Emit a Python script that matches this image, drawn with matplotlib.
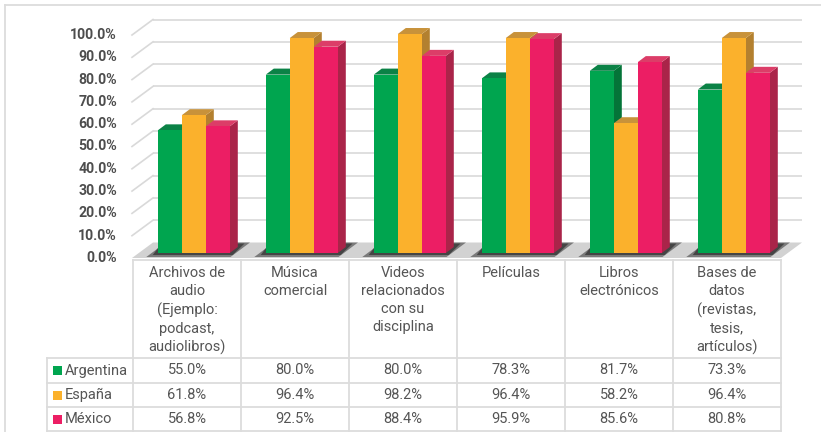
import matplotlib
matplotlib.use("Agg")
import matplotlib.pyplot as plt
from matplotlib.patches import Polygon
from matplotlib.transforms import offset_copy

# ---------------- data ----------------
categories = [
    "Archivos de\naudio\n(Ejemplo:\npodcast,\naudiolibros)",
    "Música\ncomercial",
    "Videos\nrelacionados\ncon su\ndisciplina",
    "Películas",
    "Libros\nelectrónicos",
    "Bases de\ndatos\n(revistas,\ntesis,\nartículos)",
]
series_names = ["Argentina", "España", "México"]
argentina = [55.0, 80.0, 80.0, 78.3, 81.7, 73.3]
espana = [61.8, 96.4, 98.2, 96.4, 58.2, 96.4]
mexico = [56.8, 92.5, 88.4, 95.9, 85.6, 80.8]
series_values = [argentina, espana, mexico]
yticks = [0, 10, 20, 30, 40, 50, 60, 70, 80, 90, 100]

# ---------------- style ----------------
front_cols = ["#00a54f", "#fbb12c", "#ec1e64"]
top_cols = ["#0b8246", "#c8923a", "#dc3d68"]
side_cols = ["#047438", "#b3802f", "#aa2449"]
grid_col = "#d9d9d9"
text_col = "#555555"
FONT = ["Roboto", "DejaVu Sans"]
plt.rcParams["font.family"] = FONT

W, H = 821, 432
fig = plt.figure(figsize=(W / 100, H / 100), dpi=100)

# bar plane geometry (pixels)
X0 = 139.8          # data x = 0
PXX = 108.0         # px per category
Y0 = 253.0          # data y = 0 (from top)
PXY = 2.23          # px per percent
ax = fig.add_axes([X0 / W, (H - Y0) / H, 6 * PXX / W, 100 * PXY / H])
ax.set_xlim(0, 6)
ax.set_ylim(0, 100)
ax.axis("off")

def dx(px):
    return px / PXX

def dy(px):
    return px / PXY

# walls / grid
back_dx, back_dy = dx(14.2), dy(10.5)
front_dx, front_dy = dx(-6.8), dy(-5.0)
x_back_l, x_back_r = dx(153 - X0), dx(802 - X0)
x_front_l = dx(132 - X0)
for v in yticks[1:]:
    ax.plot([x_back_l, x_back_r], [v + back_dy, v + back_dy], color=grid_col,
            lw=1.2, zorder=1, clip_on=False, solid_capstyle="butt")
    ax.plot([x_front_l, x_back_l], [v + front_dy, v + back_dy], color=grid_col,
            lw=1.2, zorder=1, clip_on=False)

# floor
x_front_r = dx(781 - X0)
floor = Polygon([(x_front_l, front_dy), (x_front_r, front_dy),
                 (x_back_r, back_dy), (x_back_l, back_dy)],
                closed=True, fc="#d2d2d2", ec="none", zorder=1.5, clip_on=False)
ax.add_patch(floor)
for i in range(len(categories)):
    c = i + 0.5
    shadow = Polygon([(c - 0.44, front_dy + dy(1)), (c + 0.34, front_dy + dy(1)),
                      (c + 0.52, back_dy), (c - 0.26, back_dy)],
                     closed=True, fc="#7a7a7a", ec="none", zorder=1.6, clip_on=False)
    ax.add_patch(shadow)
    shadow2 = Polygon([(c - 0.38, front_dy + dy(3)), (c + 0.36, front_dy + dy(3)),
                       (c + 0.47, back_dy - dy(1)), (c - 0.30, back_dy - dy(1))],
                      closed=True, fc="#454545", ec="none", zorder=1.7, clip_on=False)
    ax.add_patch(shadow2)

# bars
bw = dx(24)
ddx, ddy = dx(8), dy(6)
for i in range(len(categories)):
    for j, vals in enumerate(series_values):
        h = vals[i]
        xl = i + 0.5 + (j - 1.5) * bw
        z = 3 + i * 3 + j * 0.1
        side = Polygon([(xl + bw, 0), (xl + bw + ddx, ddy), (xl + bw + ddx, h + ddy), (xl + bw, h)],
                       closed=True, fc=side_cols[j], ec="none", zorder=z, clip_on=False)
        top = Polygon([(xl, h), (xl + bw, h), (xl + bw + ddx, h + ddy), (xl + ddx, h + ddy)],
                      closed=True, fc=top_cols[j], ec="none", zorder=z, clip_on=False)
        ax.add_patch(side)
        ax.add_patch(top)
        ax.bar(xl, h, width=bw, align="edge", color=front_cols[j], zorder=z + 0.05,
               clip_on=False, linewidth=0)

# y tick labels (front plane)
tl = offset_copy(ax.transData, fig=fig, x=-(X0 - 117), y=-5, units="dots")
for v in yticks:
    ax.text(0, v, f"{v:.1f}%", transform=tl, ha="right", va="center",
            fontsize=10.2, fontweight="bold", color="#4d4d4d", family=FONT)

# ---------------- overlay (table + frame) in pixel coords ----------------
ov = fig.add_axes([0, 0, 1, 1], zorder=-1)
ov.set_xlim(0, W)
ov.set_ylim(H, 0)
ov.axis("off")
ov.patch.set_alpha(0)

lc = "#dcdcdc"
lw = 1.3
# frame
ov.plot([5, 5], [5, H], color=lc, lw=lw)
ov.plot([5, W], [5, 5], color=lc, lw=lw)

col_x = [133 + PXX * k for k in range(7)]
row_y = [260, 358, 383, 407, 431]
# vertical lines
for x in col_x:
    ov.plot([x, x], [row_y[0], row_y[-1]], color=lc, lw=lw)
ov.plot([47, 47], [row_y[1], row_y[-1]], color=lc, lw=lw)
# horizontal lines
ov.plot([col_x[0], col_x[-1]], [row_y[0], row_y[0]], color=lc, lw=lw)
for y in row_y[1:]:
    ov.plot([47, col_x[-1]], [y, y], color=lc, lw=lw)

# header texts
for k, cat in enumerate(categories):
    cx = (col_x[k] + col_x[k + 1]) / 2
    ov.text(cx, 266, cat, ha="center", va="top", fontsize=10.5, color=text_col,
            linespacing=1.36, family=FONT)

# data rows
for r, (name, vals) in enumerate(zip(series_names, series_values)):
    cy = (row_y[r + 1] + row_y[r + 2]) / 2
    ov.add_patch(plt.Rectangle((53, cy - 4.5), 9, 9, fc=front_cols[r], ec="none"))
    ov.text(65, cy, name, ha="left", va="center", fontsize=10.5, color=text_col, family=FONT)
    for k, v in enumerate(vals):
        cx = (col_x[k] + col_x[k + 1]) / 2
        ov.text(cx, cy, f"{v:.1f}%", ha="center", va="center", fontsize=10.5,
                color=text_col, family=FONT)

fig.savefig("out.png", dpi=100, facecolor="white")
